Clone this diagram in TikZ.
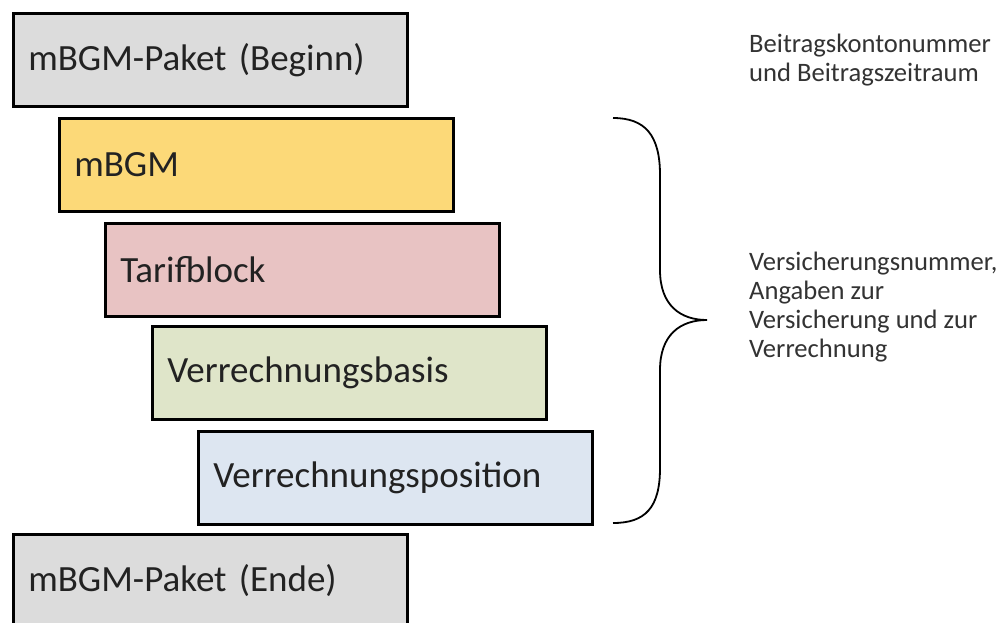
\documentclass[tikz,border=0pt]{standalone}
\usepackage{fontspec}
\setmainfont{Carlito}
\definecolor{boxgray}{HTML}{DCDCDC}
\definecolor{boxyellow}{HTML}{FCD978}
\definecolor{boxpink}{HTML}{E8C3C3}
\definecolor{boxgreen}{HTML}{DFE5C9}
\definecolor{boxblue}{HTML}{DDE6F1}
\definecolor{txt}{HTML}{222222}
\definecolor{sidetxt}{HTML}{333333}
\begin{document}
\begin{tikzpicture}[x=1pt,y=-1pt,
  layer/.style={draw=black,line width=2.6pt,rectangle,anchor=north west,
    minimum width=394pt,minimum height=93pt,text width=364pt,align=left,
    inner xsep=15pt,inner ysep=0pt,font=\fontsize{37}{42}\selectfont,text=txt},
  side/.style={anchor=north west,align=left,inner sep=0pt,
    font=\fontsize{26.6}{29}\selectfont,text=sidetxt},
  bracel/.style={draw=black,line width=1.8pt}]
\useasboundingbox (0,0) rectangle (1008,622);
\fill[white] (0,0) rectangle (1008,622);
\begin{scope}
\clip (0,0) rectangle (1008,622);
\node[layer,fill=boxgray]   (beginn) at (12,12)  {mBGM-Paket (Beginn)};
\node[layer,fill=boxyellow] (mbgm)   at (58,117) {mBGM};
\node[layer,fill=boxpink]   (tarif)  at (104,222) {Tarifblock};
\node[layer,fill=boxgreen]  (basis)  at (151,325) {Verrechnungsbasis};
\node[layer,fill=boxblue]   (pos)    at (197,430) {Verrechnungsposition};
\node[layer,fill=boxgray]   (ende)   at (12,533) {mBGM-Paket (Ende)};
\end{scope}
\coordinate (btop) at (613,118);
\coordinate (bbot) at (613,523);
\coordinate (btip) at (707,320);
\draw[bracel] (btop) .. controls (645,118) and (660,135) .. (660,175)
  -- (660,270) .. controls (660,305) and (680,320) .. (btip)
  .. controls (680,320) and (660,335) .. (660,370)
  -- (660,468) .. controls (660,508) and (645,523) .. (bbot);
\node[side] (kopf) at (749,34) {Beitragskontonummer\\und Beitragszeitraum};
\node[side] (vers) at (749,252) {Versicherungsnummer,\\Angaben zur\\Versicherung und zur\\Verrechnung};
\end{tikzpicture}
\end{document}
